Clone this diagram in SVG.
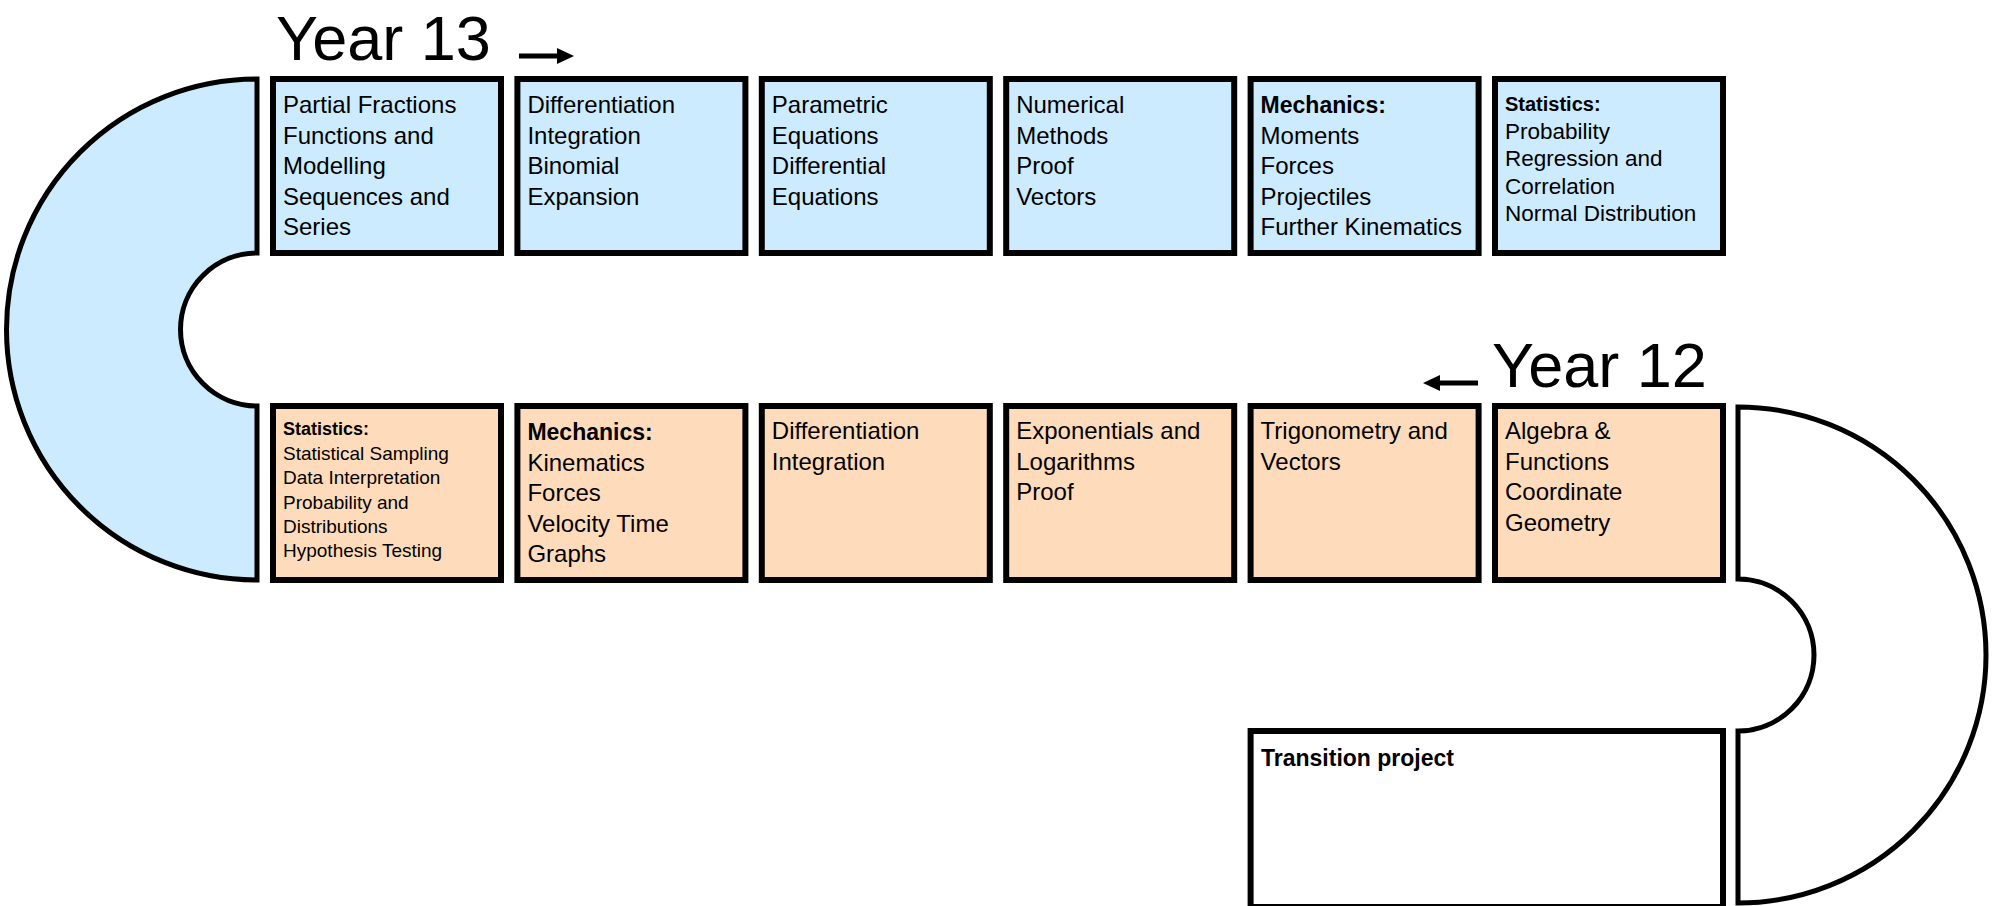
<svg xmlns="http://www.w3.org/2000/svg" width="1997" height="906" viewBox="0 0 1997 906">
<style>
  .box { stroke: #000; stroke-width: 6; }
  .blue { fill: #CCEBFE; }
  .orange { fill: #FEDCBB; }
  .white { fill: #FFFFFF; }
  .arc { stroke: #000; stroke-width: 5; stroke-linejoin: miter; }
  text { font-family: "Liberation Sans", Arial, sans-serif; fill: #000; }
  .t { font-size: 24px; }
  .tb { font-size: 23px; font-weight: bold; }
  .s { font-size: 22.5px; }
  .sb { font-size: 20px; font-weight: bold; }
  .xs { font-size: 19px; }
  .xsb { font-size: 18px; font-weight: bold; }
  .year { font-size: 63px; }
  .shaft { stroke: #000; stroke-width: 5; fill: none; }
  .head { fill: #000; }
</style>

<g id="bend-left">
  <path class="arc blue" d="M 257 79 A 250.5 250.5 0 0 0 257 580 L 257 406 A 76.5 76.5 0 0 1 257 253 Z"/>
</g>
<g id="bend-right">
  <path class="arc white" d="M 1738 407 A 248 248 0 0 1 1738 903 L 1738 731 A 76 76 0 0 0 1738 579 Z"/>
</g>

<g id="label-year13">
  <text class="year" x="276" y="60">Year 13</text>
</g>
<g id="label-year12">
  <text class="year" x="1492" y="387">Year 12</text>
</g>

<g id="connectors">
  <line class="shaft" x1="519" y1="56" x2="560" y2="56"/>
  <polygon class="head" points="557,48 574,56 557,64"/>
  <line class="shaft" x1="1438" y1="383" x2="1478" y2="383"/>
  <polygon class="head" points="1440,375 1423,383 1440,391"/>
</g>

<!-- Year 13 row -->
<g id="y13-partial-fractions">
  <rect class="box blue" x="273" y="79" width="228" height="174"/>
  <text class="t" x="283" y="113">Partial Fractions</text>
  <text class="t" x="283" y="143.5">Functions and</text>
  <text class="t" x="283" y="174">Modelling</text>
  <text class="t" x="283" y="204.5">Sequences and</text>
  <text class="t" x="283" y="235">Series</text>
</g>
<g id="y13-differentiation">
  <rect class="box blue" x="517.4" y="79" width="228" height="174"/>
  <text class="t" x="527.4" y="113">Differentiation</text>
  <text class="t" x="527.4" y="143.5">Integration</text>
  <text class="t" x="527.4" y="174">Binomial</text>
  <text class="t" x="527.4" y="204.5">Expansion</text>
</g>
<g id="y13-parametric">
  <rect class="box blue" x="761.8" y="79" width="228" height="174"/>
  <text class="t" x="771.8" y="113">Parametric</text>
  <text class="t" x="771.8" y="143.5">Equations</text>
  <text class="t" x="771.8" y="174">Differential</text>
  <text class="t" x="771.8" y="204.5">Equations</text>
</g>
<g id="y13-numerical">
  <rect class="box blue" x="1006.2" y="79" width="228" height="174"/>
  <text class="t" x="1016.2" y="113">Numerical</text>
  <text class="t" x="1016.2" y="143.5">Methods</text>
  <text class="t" x="1016.2" y="174">Proof</text>
  <text class="t" x="1016.2" y="204.5">Vectors</text>
</g>
<g id="y13-mechanics">
  <rect class="box blue" x="1250.6" y="79" width="228" height="174"/>
  <text class="tb" x="1260.6" y="113">Mechanics:</text>
  <text class="t" x="1260.6" y="143.5">Moments</text>
  <text class="t" x="1260.6" y="174">Forces</text>
  <text class="t" x="1260.6" y="204.5">Projectiles</text>
  <text class="t" x="1260.6" y="235">Further Kinematics</text>
</g>
<g id="y13-statistics">
  <rect class="box blue" x="1495" y="79" width="228" height="174"/>
  <text class="sb" x="1505" y="111">Statistics:</text>
  <text class="s" x="1505" y="138.5">Probability</text>
  <text class="s" x="1505" y="166">Regression and</text>
  <text class="s" x="1505" y="193.5">Correlation</text>
  <text class="s" x="1505" y="221">Normal Distribution</text>
</g>

<!-- Year 12 row -->
<g id="y12-statistics">
  <rect class="box orange" x="273" y="406" width="228" height="174"/>
  <text class="xsb" x="283" y="435">Statistics:</text>
  <text class="xs" x="283" y="460">Statistical Sampling</text>
  <text class="xs" x="283" y="484">Data Interpretation</text>
  <text class="xs" x="283" y="508.5">Probability and</text>
  <text class="xs" x="283" y="532.5">Distributions</text>
  <text class="xs" x="283" y="557">Hypothesis Testing</text>
</g>
<g id="y12-mechanics">
  <rect class="box orange" x="517.4" y="406" width="228" height="174"/>
  <text class="tb" x="527.4" y="440">Mechanics:</text>
  <text class="t" x="527.4" y="470.5">Kinematics</text>
  <text class="t" x="527.4" y="501">Forces</text>
  <text class="t" x="527.4" y="531.5">Velocity Time</text>
  <text class="t" x="527.4" y="562">Graphs</text>
</g>
<g id="y12-differentiation">
  <rect class="box orange" x="761.8" y="406" width="228" height="174"/>
  <text class="t" x="771.8" y="439">Differentiation</text>
  <text class="t" x="771.8" y="469.5">Integration</text>
</g>
<g id="y12-exponentials">
  <rect class="box orange" x="1006.2" y="406" width="228" height="174"/>
  <text class="t" x="1016.2" y="439">Exponentials and</text>
  <text class="t" x="1016.2" y="469.5">Logarithms</text>
  <text class="t" x="1016.2" y="500">Proof</text>
</g>
<g id="y12-trigonometry">
  <rect class="box orange" x="1250.6" y="406" width="228" height="174"/>
  <text class="t" x="1260.6" y="439">Trigonometry and</text>
  <text class="t" x="1260.6" y="469.5">Vectors</text>
</g>
<g id="y12-algebra">
  <rect class="box orange" x="1495" y="406" width="228" height="174"/>
  <text class="t" x="1505" y="439">Algebra &amp;</text>
  <text class="t" x="1505" y="469.5">Functions</text>
  <text class="t" x="1505" y="500">Coordinate</text>
  <text class="t" x="1505" y="530.5">Geometry</text>
</g>

<g id="transition-project">
  <rect class="box white" x="1250.6" y="731" width="472.4" height="176"/>
  <text class="tb" x="1261" y="766">Transition project</text>
</g>
</svg>
